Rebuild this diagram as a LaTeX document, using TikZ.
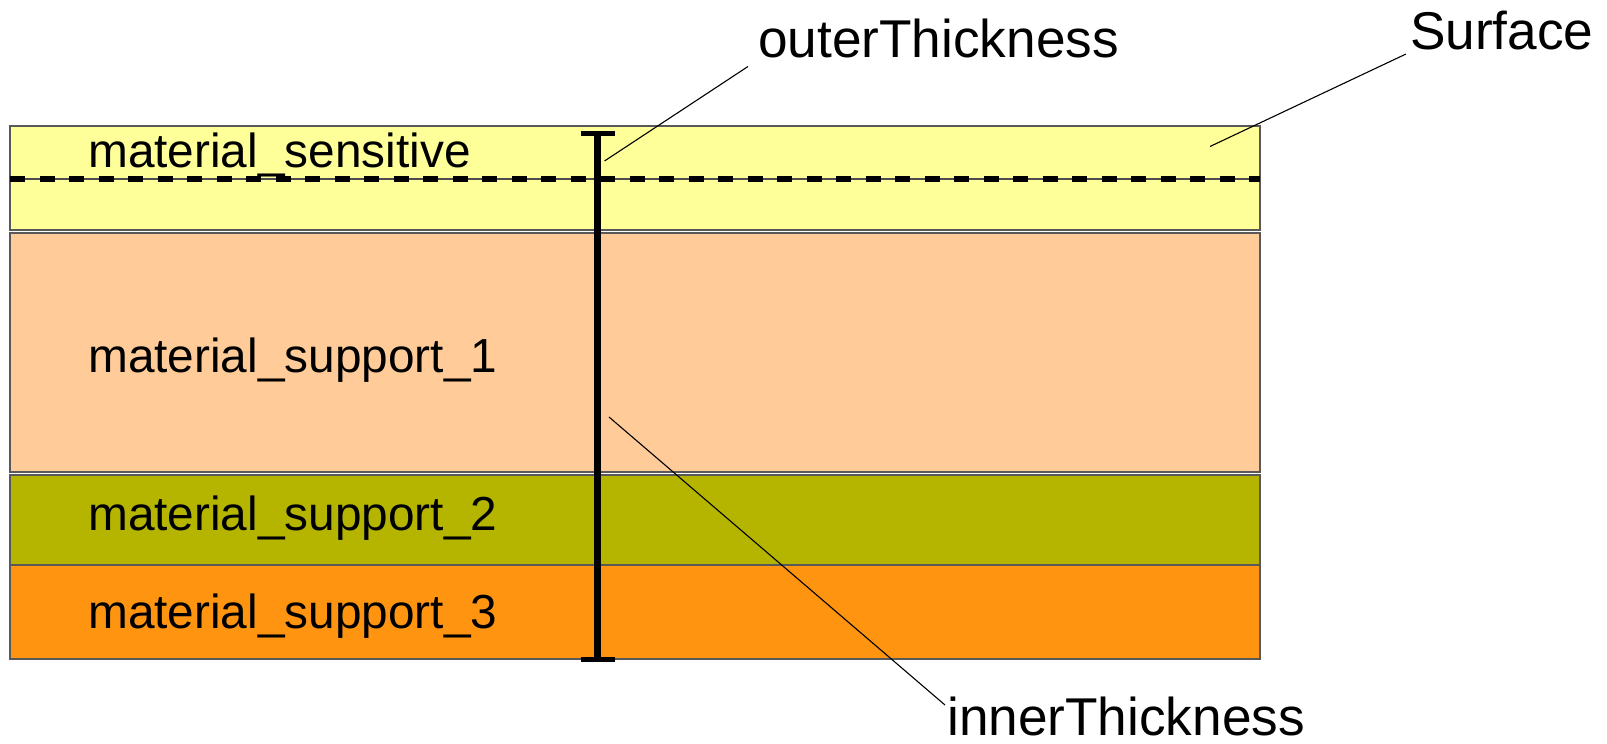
\documentclass[tikz,border=0pt]{standalone}
\usepackage{fontspec}
\setmainfont{Liberation Sans}
\begin{document}
\begin{tikzpicture}[x=1pt,y=-1pt,
  layer/.style={draw=black!65,line width=1.2pt},
  matlabel/.style={anchor=base west,inner sep=0pt,font=\fontsize{47.8}{57}\selectfont},
  annlabel/.style={anchor=base west,inner sep=0pt,font=\fontsize{53.2}{62}\selectfont},
  leader/.style={draw=black,line width=1.1pt},
  dimbar/.style={draw=black,line width=6.5pt}
]
\definecolor{cSens}{RGB}{255,255,153}
\definecolor{cSup1}{RGB}{255,204,153}
\definecolor{cSup2}{RGB}{181,181,0}
\definecolor{cSup3}{RGB}{255,148,17}
\useasboundingbox (0,0) rectangle (1607,744);
% layers
\path[layer,fill=cSens] (10,126) rectangle (1260,230);
\path[layer,fill=cSup1] (10,233) rectangle (1260,472);
\path[layer,fill=cSup2] (10,475) rectangle (1260,565);
\path[layer,fill=cSup3] (10,565) rectangle (1260,659);
% surface line and dashed line
\draw[black!70,line width=1.2pt] (10,179) -- (1260,179);
\draw[black,line width=6.5pt,dash pattern=on 15pt off 14.5pt] (10,179) -- (1260,179);
% labels
\node[matlabel] (ms) at (88,167) {material\_sensitive};
\node[matlabel] (m1) at (88,372) {material\_support\_1};
\node[matlabel] (m2) at (88,530) {material\_support\_2};
\node[matlabel] (m3) at (88,628) {material\_support\_3};
% thickness bar
\coordinate (bt) at (597.5,133);
\coordinate (bb) at (597.5,659);
\draw[dimbar] (bt) -- (bb);
\draw[black,line width=5pt] ([xshift=-17pt]bt) -- ([xshift=17pt]bt);
\draw[black,line width=5pt] ([xshift=-17pt]bb) -- ([xshift=17pt]bb);
% annotations
\node[annlabel] (ot) at (758,57) {outerThickness};
\node[annlabel] (sf) at (1410,49) {Surface};
\node[annlabel] (it) at (947,735) {innerThickness};
\coordinate (otp) at (604.5,161);
\coordinate (sfp) at (1210,146.5);
\coordinate (itp) at (609,417);
\coordinate (ote) at (748,66.5);
\coordinate (sfe) at (1406,54);
\coordinate (ite) at (945,705);
\draw[leader] (otp) -- (ote);
\draw[leader] (sfp) -- (sfe);
\draw[leader] (itp) -- (ite);
\end{tikzpicture}
\end{document}
